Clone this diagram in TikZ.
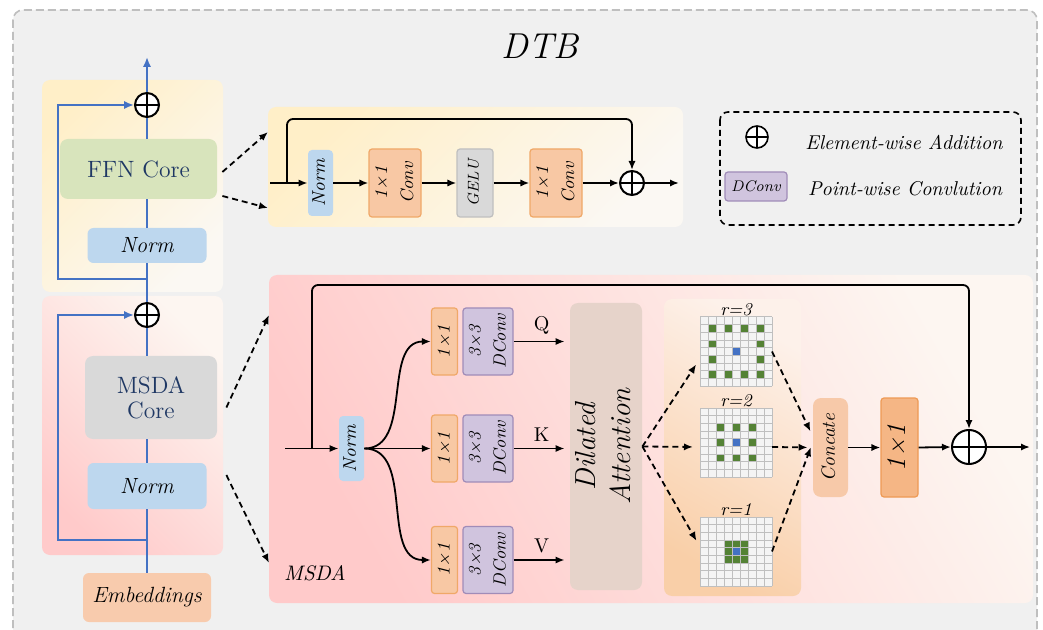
\documentclass[tikz,border=0pt]{standalone}
\usepackage{graphicx}
\usetikzlibrary{arrows.meta,positioning}

\definecolor{bgray}{HTML}{F0F0F0}
\definecolor{framegray}{HTML}{BFBFBF}
\definecolor{lineblue}{HTML}{4472C4}
\definecolor{normblue}{HTML}{BDD7EE}
\definecolor{ffngreen}{HTML}{D8E4BC}
\definecolor{coregray}{HTML}{D9D9D9}
\definecolor{navytxt}{HTML}{1F3864}
\definecolor{embfill}{HTML}{F8CBAD}
\definecolor{convfill}{HTML}{F8C8A4}
\definecolor{convedge}{HTML}{F0A868}
\definecolor{dcfill}{HTML}{D0C4DE}
\definecolor{dcedge}{HTML}{A08CB8}
\definecolor{attnfill}{HTML}{E6D3CA}
\definecolor{catfill}{HTML}{F7C9A9}
\definecolor{bigfill}{HTML}{F5B685}
\definecolor{bigedge}{HTML}{EE9A55}
\definecolor{cellgreen}{HTML}{548235}
\definecolor{cellblue}{HTML}{4472C4}
\definecolor{cellline}{HTML}{BFBFBF}
\definecolor{cellfill}{HTML}{F4F4F4}
\definecolor{ylwdark}{HTML}{FFEFC8}
\definecolor{ylwlight}{HTML}{FBF8F3}
\definecolor{pnkdark}{HTML}{FFCACA}
\definecolor{pnklight}{HTML}{FDF6F1}
\definecolor{orgdark}{HTML}{F9CFA8}
\definecolor{orglight}{HTML}{FDF1EA}

\newcommand{\vtxt}[1]{\rotatebox{90}{\begin{tabular}{@{}c@{}}#1\end{tabular}}}
% 9x9 dilation grid drawn into node #1, green cells col/row in #2
\newcommand{\dilgrid}[2]{%
  \fill[cellfill] (#1.north west) rectangle (#1.south east);
  \foreach \gc/\gr in {#2}
    \fill[cellgreen] ([shift={(\gc*8,\gr*7.667)}]#1.north west) rectangle ++(8,7.667);
  \fill[cellblue] ([shift={(32,30.667)}]#1.north west) rectangle ++(8,7.667);
  \foreach \k in {0,...,9} {
    \draw[cellline,line width=0.5pt] ([shift={(\k*8,0)}]#1.north west) -- ++(0,69);
    \draw[cellline,line width=0.5pt] ([shift={(0,\k*7.667)}]#1.north west) -- ++(72,0);
  }
}

\begin{document}
\begin{tikzpicture}[x=0.5pt,y=-0.5pt,
  panel/.style={rounded corners=4pt, inner sep=0pt, outer sep=0pt},
  corebox/.style={rounded corners=4pt, inner sep=0pt, align=center, text=navytxt,
    font=\fontsize{11.8}{12.5}\selectfont},
  lnorm/.style={fill=normblue, rounded corners=3pt, inner sep=0pt, minimum width=59.5pt,
    font=\fontsize{11}{13}\selectfont\itshape},
  normbox/.style={fill=normblue, rounded corners=2pt, inner sep=0pt,
    font=\fontsize{9.2}{11}\selectfont\itshape},
  convbox/.style={fill=convfill, draw=convedge, line width=0.6pt, rounded corners=1.5pt,
    inner sep=0pt, font=\fontsize{9}{13}\selectfont\itshape},
  dcbox/.style={fill=dcfill, draw=dcedge, line width=0.6pt, rounded corners=1.5pt,
    inner sep=0pt, font=\fontsize{8.8}{12.5}\selectfont\itshape},
  gelubox/.style={fill=coregray, draw=cellline, line width=0.6pt, rounded corners=1.5pt,
    inner sep=0pt, font=\fontsize{7.8}{9}\selectfont\itshape},
  gridnode/.style={minimum width=36pt, minimum height=34.5pt, inner sep=0pt, outer sep=0pt},
  rlab/.style={anchor=south, inner sep=0.5pt, font=\fontsize{9}{9}\selectfont\itshape},
  qkv/.style={inner sep=1pt, font=\fontsize{10}{11}\selectfont},
  legtxt/.style={font=\fontsize{10}{12}\selectfont\itshape},
  addop/.style={circle, draw, fill=white, line width=1pt, minimum size=#1, inner sep=0pt,
    path picture={\draw[line width=1pt]
      (path picture bounding box.north) -- (path picture bounding box.south)
      (path picture bounding box.west) -- (path picture bounding box.east);}},
  addop/.default=12pt,
  arr/.style={line width=0.9pt, -{Latex[length=4.5pt,width=3.6pt]}},
  dasharr/.style={arr, dash pattern=on 3pt off 2pt},
  blueln/.style={draw=lineblue, line width=1.2pt},
  bluearr/.style={blueln, -{Latex[length=5pt,width=4.2pt]}}]

  \useasboundingbox (0,0) rectangle (1043,630);
  \clip (0,0) rectangle (1043,630);
  \fill[white] (0,0) rectangle (1043,630);
  \draw[framegray, fill=bgray, line width=0.8pt, dash pattern=on 4pt off 2pt,
    rounded corners=5pt] (13,10) rectangle (1037,645);
  \node[font=\fontsize{18}{20}\selectfont\itshape] (title) at (540,46) {DTB};

  % left column
  \node[panel, left color=ylwdark, right color=ylwlight, shading angle=45,
    minimum width=90.5pt, minimum height=106pt] (ffnblk) at (132.5,186) {};
  \node[panel, left color=pnkdark, right color=pnklight, shading angle=135,
    minimum width=90.5pt, minimum height=129.5pt] (msdablk) at (132.5,425.5) {};
  \node[addop] (plus1) at (147,105) {};
  \node[corebox, fill=ffngreen, minimum width=78.5pt, minimum height=30pt] (ffncore) at (138.5,169) {FFN Core};
  \node[lnorm, minimum height=17.5pt] (norm1) at (147,245.5) {Norm};
  \node[addop] (plus2) at (147,315) {};
  \node[corebox, fill=coregray, minimum width=66pt, minimum height=41.5pt] (msdacore) at (151,397.5) {MSDA\\Core};
  \node[lnorm, minimum height=23pt] (norm2) at (147,486) {Norm};
  \node[lnorm, fill=embfill, minimum width=64pt, minimum height=24.5pt] (embed) at (147,597.5) {Embeddings};
  \coordinate (topout) at (147,57);
  \coordinate (br1) at (147,279);
  \coordinate (br2) at (147,540);

  \draw[blueln] (embed.north) -- (norm2.south);
  \draw[blueln] (norm2.north) -- (plus2 |- msdacore.south);
  \draw[blueln] (plus2 |- msdacore.north) -- (plus2.south);
  \draw[blueln] (plus2.north) -- (norm1.south);
  \draw[blueln] (norm1.north) -- (plus1 |- ffncore.south);
  \draw[blueln] (plus1 |- ffncore.north) -- (plus1.south);
  \draw[bluearr] (plus1.north) -- (topout);
  \draw[bluearr] (br2) -- ++(-89,0) |- (plus2.west);
  \draw[bluearr] (br1) -- ++(-89,0) |- (plus1.west);

  % FFN detail
  \node[panel, left color=ylwdark, right color=ylwlight, shading angle=45,
    minimum width=207.5pt, minimum height=60pt] (ffnpanel) at (475.5,167) {};
  \node[normbox, minimum width=12.5pt, minimum height=33pt] (fnorm) at (320.5,183) {\vtxt{Norm}};
  \node[convbox, minimum width=25pt, minimum height=34pt] (fconv1) at (395,183) {\vtxt{1×1\\Conv}};
  \node[gelubox, minimum width=18pt, minimum height=34pt] (gelu) at (475,183) {\vtxt{GELU}};
  \node[convbox, minimum width=25pt, minimum height=34pt] (fconv2) at (556,183) {\vtxt{1×1\\Conv}};
  \node[addop] (fplus) at (632,183) {};
  \coordinate (fin) at (270,183);
  \coordinate (fsk) at (287,183);
  \coordinate (fout) at (679,183);
  \draw[arr] (fin) -- (fnorm.west);
  \draw[arr] (fnorm.east) -- (fconv1.west);
  \draw[arr] (fconv1.east) -- (gelu.west);
  \draw[arr] (gelu.east) -- (fconv2.west);
  \draw[arr] (fconv2.east) -- (fplus.west);
  \draw[arr] (fplus.east) -- (fout);
  \draw[arr, rounded corners=3pt] (fsk) -- ++(0,-64) -| (fplus.north);

  \draw[dasharr] ([xshift=2.5pt,yshift=-1.5pt]ffncore.east) -- ([yshift=17.5pt]ffnpanel.west);
  \draw[dasharr] ([xshift=2.5pt,yshift=-13.5pt]ffncore.east) -- ([yshift=-20.5pt]ffnpanel.west);

  % legend
  \draw[line width=0.8pt, dash pattern=on 3pt off 2pt, rounded corners=4pt]
    (720,112) rectangle (1021,225);
  \node[addop=11pt, line width=0.8pt] (legplus) at (757,137) {};
  \node[legtxt] (legadd) at (904,142) {Element-wise Addition};
  \node[dcbox, minimum width=31pt, minimum height=14.5pt, font=\fontsize{7.7}{9}\selectfont\itshape] (legdc) at (756,186.5) {DConv};
  \node[legtxt] (legpw) at (905,189) {Point-wise Convlution};

  % MSDA detail
  \node[panel, left color=pnkdark, right color=pnklight, shading angle=120,
    minimum width=382pt, minimum height=164pt] (msdapanel) at (651,439) {};
  \node[panel, left color=orgdark, right color=orglight, shading angle=150,
    minimum width=68.5pt, minimum height=148.5pt] (gridpanel) at (732.5,447.5) {};
  \node[font=\fontsize{10.5}{12}\selectfont\itshape] (msdalab) at (315,573) {MSDA};
  \node[normbox, minimum width=12.5pt, minimum height=32.5pt] (mnorm) at (351.5,448.5) {\vtxt{Norm}};
  \node[convbox, minimum width=12.5pt, minimum height=33.5pt] (qconv) at (444.5,341.5) {\vtxt{1×1}};
  \node[convbox, minimum width=12.5pt, minimum height=33.5pt] (kconv) at (444.5,448.5) {\vtxt{1×1}};
  \node[convbox, minimum width=12.5pt, minimum height=33.5pt] (vconv) at (444.5,560) {\vtxt{1×1}};
  \node[dcbox, minimum width=25pt, minimum height=33.5pt] (qdconv) at (488,341.5) {\vtxt{3×3\\DConv}};
  \node[dcbox, minimum width=25pt, minimum height=33.5pt] (kdconv) at (488,448.5) {\vtxt{3×3\\DConv}};
  \node[dcbox, minimum width=25pt, minimum height=33.5pt] (vdconv) at (488,560) {\vtxt{3×3\\DConv}};
  \node[fill=attnfill, rounded corners=4pt, inner sep=0pt, minimum width=36pt, minimum height=143.5pt,
    font=\fontsize{14.5}{17.5}\selectfont\itshape] (attn) at (606,446.5) {\vtxt{Dilated\\Attention}};
  \node[gridnode] (g3) at (736,351.5) {};
  \node[gridnode] (g2) at (736,442.5) {};
  \node[gridnode] (g1) at (736,551.5) {};
  \dilgrid{g3}{1/1,3/1,5/1,7/1,1/3,7/3,1/5,7/5,1/7,3/7,5/7,7/7}
  \dilgrid{g2}{2/2,4/2,6/2,2/4,6/4,2/6,4/6,6/6}
  \dilgrid{g1}{3/3,4/3,5/3,3/4,5/4,3/5,4/5,5/5}
  \node[rlab] (r3) at (g3.north) {r=3};
  \node[rlab] (r2) at (g2.north) {r=2};
  \node[rlab] (r1) at (g1.north) {r=1};
  \node[fill=catfill, rounded corners=4pt, inner sep=0pt, minimum width=17.5pt, minimum height=49.5pt,
    font=\fontsize{9.6}{11}\selectfont\itshape] (concat) at (830.5,447.5) {\vtxt{Concate}};
  \node[fill=bigfill, draw=bigedge, line width=0.6pt, rounded corners=1.5pt, inner sep=0pt,
    minimum width=18.5pt, minimum height=49.5pt, font=\fontsize{13.5}{14}\selectfont\itshape]
    (bigconv) at (899.5,447.5) {\vtxt{1×1}};
  \node[addop=17pt] (mplus) at (969,447) {};
  \coordinate (min) at (285,448.5);
  \coordinate (msk) at (312,448.5);
  \coordinate (mout) at (1030,447);

  \draw[dasharr] ([xshift=4.5pt,yshift=-5pt]msdacore.east) -- ([yshift=62pt]msdapanel.west);
  \draw[dasharr] ([xshift=4.5pt,yshift=-38.75pt]msdacore.east) -- ([yshift=-62pt]msdapanel.west);

  \draw[arr] (min) -- (mnorm.west);
  \draw[arr, rounded corners=3pt] (msk) -- ++(0,-163.5) -| (mplus.north);
  \draw[arr] (mnorm.east) to[out=0,in=180] (qconv.west);
  \draw[arr] (mnorm.east) -- (kconv.west);
  \draw[arr] (mnorm.east) to[out=0,in=180] (vconv.west);
  \draw[arr, shorten >=2.5pt] (qdconv.east) -- node[qkv, above=2pt] {Q} (qdconv.east -| attn.west);
  \draw[arr, shorten >=2.5pt] (kdconv.east) -- node[qkv, above=2pt] {K} (kdconv.east -| attn.west);
  \draw[arr, shorten >=2.5pt] (vdconv.east) -- node[qkv, above=2pt] {V} (vdconv.east -| attn.west);

  \draw[dasharr, shorten >=3.5pt] (attn.east) -- ([yshift=-3.5pt]g3.west);
  \draw[dasharr, shorten >=3.5pt] (attn.east) -- ([yshift=-2.25pt]g2.west);
  \draw[dasharr, shorten >=3.5pt] (attn.east) -- ([yshift=2.25pt]g1.west);
  \draw[dasharr, shorten >=2.5pt] (g3.east) -- ([yshift=5.75pt]concat.west);
  \draw[dasharr, shorten >=2.5pt] ([yshift=-2.25pt]g2.east) -- (concat.west);
  \draw[dasharr, shorten >=2.5pt] (g1.east) -- ([yshift=2.5pt]concat.west);
  \draw[arr] (concat.east) -- (bigconv.west);
  \draw[arr] (bigconv.east) -- (mplus.west);
  \draw[arr] (mplus.east) -- (mout);
\end{tikzpicture}
\end{document}
